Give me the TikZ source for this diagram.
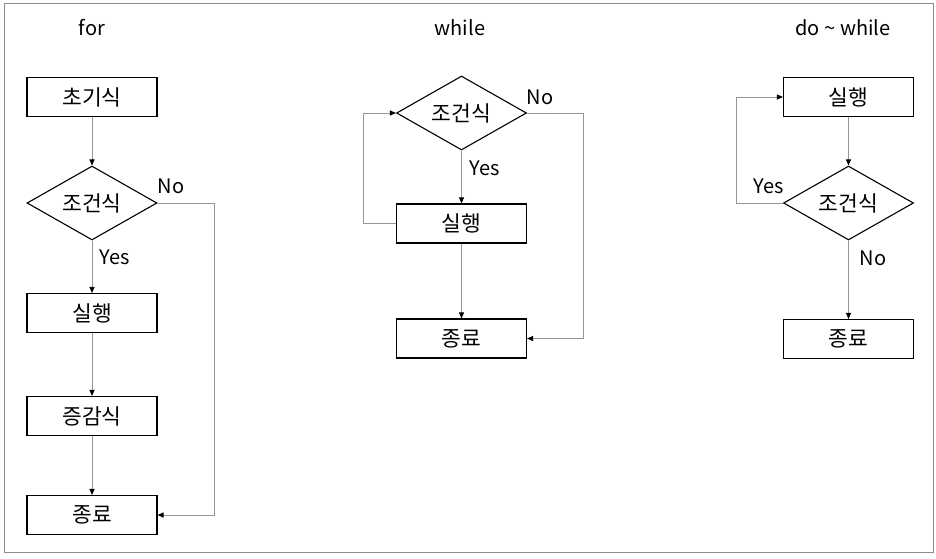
\documentclass[tikz,border=0pt]{standalone}
\usepackage{fontspec}
\setmainfont{Noto Sans CJK KR}
\usetikzlibrary{shapes.geometric,arrows.meta}
\definecolor{conn}{RGB}{150,150,150}
\definecolor{frame}{RGB}{140,140,140}
\tikzset{
  stepbox/.style={draw=black, line width=1.1pt, minimum width=130pt, minimum height=39pt, inner sep=0pt, font=\fontsize{21.5}{24}\selectfont},
  decision/.style={diamond, draw=black, line width=1.1pt, minimum width=130pt, minimum height=74pt, aspect=1.75, inner sep=0pt, font=\fontsize{21.5}{24}\selectfont},
  lbl/.style={inner sep=0pt, font=\fontsize{20}{22}\selectfont},
  ttl/.style={inner sep=0pt, font=\fontsize{20}{22}\selectfont},
  flow/.style={draw=conn, line width=0.9pt, -{Triangle[length=6pt,width=5pt,color=black]}}
}
\begin{document}
\begin{tikzpicture}[x=1pt,y=-1pt]
\useasboundingbox (0,0) rectangle (936,558);
\draw[frame, line width=1pt] (4,3) rectangle (933,552);

% titles
\node[ttl] (t1) at (92,28) {for};
\node[ttl] (t2) at (460,28) {while};
\node[ttl] (t3) at (843,28) {do \textasciitilde{} while};

% for
\node[stepbox] (init1) at (92,97) {초기식};
\node[decision] (cond1) at (92,203) {조건식};
\node[stepbox] (exec1) at (92,313) {실행};
\node[stepbox] (inc1) at (92,416) {증감식};
\node[stepbox] (end1) at (92,515) {종료};
\coordinate (r1) at (214,203);
\draw[flow] (init1) -- (cond1);
\draw[flow] (cond1) -- (exec1);
\draw[flow] (exec1) -- (inc1);
\draw[flow] (inc1) -- (end1);
\draw[flow] (cond1.east) -- (r1) |- (end1.east);
\node[lbl] (yes1) at (115,257) {Yes};
\node[lbl] (no1) at (171,186) {No};

% while
\node[decision] (cond2) at (461.5,113) {조건식};
\node[stepbox] (exec2) at (461.5,223.5) {실행};
\node[stepbox] (end2) at (461.5,338.5) {종료};
\coordinate (r2) at (583,113);
\coordinate (l2) at (363,223.5);
\draw[flow] (cond2) -- (exec2);
\draw[flow] (exec2) -- (end2);
\draw[flow] (cond2.east) -- (r2) |- (end2.east);
\draw[flow] (exec2.west) -- (l2) |- (cond2.west);
\node[lbl] (yes2) at (485,168) {Yes};
\node[lbl] (no2) at (540,97) {No};

% do while
\node[stepbox] (exec3) at (848.5,97) {실행};
\node[decision] (cond3) at (848.5,203) {조건식};
\node[stepbox] (end3) at (848.5,339) {종료};
\coordinate (l3) at (736,203);
\draw[flow] (exec3) -- (cond3);
\draw[flow] (cond3) -- (end3);
\draw[flow] (cond3.west) -- (l3) |- (exec3.west);
\node[lbl] (yes3) at (769,186) {Yes};
\node[lbl] (no3) at (873,258) {No};
\end{tikzpicture}
\end{document}
